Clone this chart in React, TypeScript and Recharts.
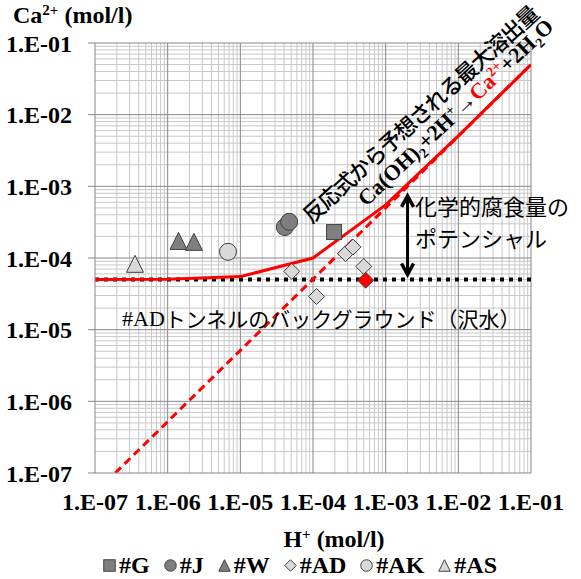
import React from "react";
import {
    ComposedChart,
    Line,
    Scatter,
    XAxis,
    YAxis,
    ReferenceLine,
} from "recharts";

// axis decades (mol/l)
const decadeTicks = [1e-7, 1e-6, 1e-5, 1e-4, 1e-3, 1e-2, 1e-1];
const minorSteps = [2, 3, 4, 5, 6, 7, 8, 9];

// red solid: max dissolution incl. background
const maxDissolution = [
    { x: 1e-7, y: 5.0e-5 },
    { x: 1e-6, y: 5.05e-5 },
    { x: 1e-5, y: 5.5e-5 },
    { x: 1e-4, y: 1.0e-4 },
    { x: 1e-3, y: 5.5e-4 },
    { x: 1e-2, y: 5.05e-3 },
    { x: 1e-1, y: 5.0e-2 },
];
// red dashed: reaction only
const reactionOnly = [
    { x: 1.9e-7, y: 1.0e-7 },
    { x: 1e-3, y: 5.0e-4 },
    { x: 1e-1, y: 5.0e-2 },
];
// black dotted: #AD background (stream water)
const background = [
    { x: 1e-7, y: 5.0e-5 },
    { x: 1e-1, y: 5.0e-5 },
];

const seriesG = [{ x: 1.95e-4, y: 2.3e-4 }];
const seriesJ = [
    { x: 4.1e-5, y: 2.7e-4 },
    { x: 4.7e-5, y: 3.2e-4 },
];
const seriesW = [
    { x: 1.41e-6, y: 1.73e-4 },
    { x: 2.3e-6, y: 1.68e-4 },
];
const seriesAD = [
    { x: 5.1e-5, y: 6.5e-5 },
    { x: 1.12e-4, y: 2.9e-5 },
    { x: 2.8e-4, y: 1.15e-4 },
    { x: 3.55e-4, y: 1.42e-4 },
    { x: 5.0e-4, y: 7.6e-5 },
];
const seriesADHighlight = [{ x: 5.3e-4, y: 4.9e-5 }];
const seriesAK = [{ x: 6.76e-6, y: 1.22e-4 }];
const seriesAS = [{ x: 3.55e-7, y: 8.3e-5 }];

// arrow: chemical corrosion potential
const arrowSegment = [
    { x: 2.0e-3, y: 7.6e-4 },
    { x: 2.0e-3, y: 5.7e-5 },
];

const DARK = "#7f7f7f";
const LIGHT = "#d9d9d9";
const EDGE = "#404040";
const SERIF = "'Liberation Serif', 'Times New Roman', serif";
const JP = "'Noto Sans CJK JP', sans-serif";

const minorValues = decadeTicks
    .slice(0, -1)
    .flatMap((d) => minorSteps.map((k) => k * d));

const fmt = (v: number) => {
    const e = Math.round(Math.log10(v));
    return `1.E${e < 0 ? "-" : "+"}${String(Math.abs(e)).padStart(2, "0")}`;
};

const drawMarker = (kind: string, cx: number, cy: number, fill: string, s: number) => {
    const h = s / 2;
    if (kind === "square")
        return <rect x={cx - h} y={cy - h} width={s} height={s} fill={fill} stroke={EDGE} strokeWidth={1} />;
    if (kind === "circle")
        return <circle cx={cx} cy={cy} r={h} fill={fill} stroke={EDGE} strokeWidth={1} />;
    if (kind === "triangle")
        return (
            <polygon
                points={`${cx},${cy - h} ${cx + h},${cy + h} ${cx - h},${cy + h}`}
                fill={fill}
                stroke={EDGE}
                strokeWidth={1}
            />
        );
    return (
        <polygon
            points={`${cx},${cy - h} ${cx + h},${cy} ${cx},${cy + h} ${cx - h},${cy}`}
            fill={fill}
            stroke={EDGE}
            strokeWidth={1}
        />
    );
};

const shape = (kind: string, fill: string, s: number) => (p: any) =>
    <g>{drawMarker(kind, p.cx, p.cy, fill, s)}</g>;

const DoubleArrow = (p: any) => {
    const { x1, y1, y2 } = p;
    const top = Math.min(y1, y2);
    const bot = Math.max(y1, y2);
    return (
        <g>
            <line x1={x1} y1={top + 2} x2={x1} y2={bot - 2} stroke="#000" strokeWidth={3} />
            <polyline
                points={`${x1 - 6},${top + 12} ${x1},${top + 1} ${x1 + 6},${top + 12}`}
                fill="none"
                stroke="#000"
                strokeWidth={3.5}
            />
            <polyline
                points={`${x1 - 6},${bot - 12} ${x1},${bot - 1} ${x1 + 6},${bot - 12}`}
                fill="none"
                stroke="#000"
                strokeWidth={3.5}
            />
        </g>
    );
};

const legendItems = [
    { name: "#G", kind: "square", fill: DARK },
    { name: "#J", kind: "circle", fill: DARK },
    { name: "#W", kind: "triangle", fill: DARK },
    { name: "#AD", kind: "diamond", fill: LIGHT },
    { name: "#AK", kind: "circle", fill: LIGHT },
    { name: "#AS", kind: "triangle", fill: LIGHT },
];

const App = () => {
    return (
        <div style={{ position: "absolute", left: 0, top: 0, width: 581, height: 579, background: "#fff" }}>
            <ComposedChart
                width={581}
                height={579}
                margin={{ top: 43, right: 50, bottom: 76, left: 0 }}
            >
                <XAxis
                    type="number"
                    dataKey="x"
                    scale="log"
                    domain={[1e-7, 1e-1]}
                    allowDataOverflow
                    ticks={decadeTicks}
                    tickFormatter={fmt}
                    height={30}
                    tickLine={false}
                    tickSize={8}
                    tickMargin={12}
                    axisLine={{ stroke: "#868686" }}
                    tick={{ fontFamily: SERIF, fontWeight: 700, fontSize: 24, fill: "#000" }}
                    interval={0}
                />
                <YAxis
                    type="number"
                    dataKey="y"
                    scale="log"
                    domain={[1e-7, 1e-1]}
                    allowDataOverflow
                    ticks={decadeTicks}
                    tickFormatter={fmt}
                    width={95}
                    tickLine={{ stroke: "#868686" }}
                    tickSize={7}
                    tickMargin={16}
                    axisLine={{ stroke: "#868686" }}
                    tick={{ fontFamily: SERIF, fontWeight: 700, fontSize: 24, fill: "#000" }}
                    interval={0}
                />
                {minorValues.map((v) => (
                    <ReferenceLine key={`mx${v}`} x={v} stroke="#c8c8c8" strokeWidth={1} />
                ))}
                {minorValues.map((v) => (
                    <ReferenceLine key={`my${v}`} y={v} stroke="#c8c8c8" strokeWidth={1} />
                ))}
                {decadeTicks.slice(1).map((v) => (
                    <ReferenceLine key={`Mx${v}`} x={v} stroke="#868686" strokeWidth={1} />
                ))}
                {decadeTicks.slice(1).map((v) => (
                    <ReferenceLine key={`My${v}`} y={v} stroke="#868686" strokeWidth={1} />
                ))}
                <Line
                    data={background}
                    dataKey="y"
                    stroke="#000"
                    strokeWidth={4}
                    strokeDasharray="4 5"
                    dot={false}
                    isAnimationActive={false}
                />
                <Line
                    data={reactionOnly}
                    dataKey="y"
                    stroke="#ff0000"
                    strokeWidth={3}
                    strokeDasharray="8 5"
                    dot={false}
                    isAnimationActive={false}
                />
                <Line
                    data={maxDissolution}
                    dataKey="y"
                    stroke="#ff0000"
                    strokeWidth={3}
                    dot={false}
                    isAnimationActive={false}
                />
                <ReferenceLine
                    segment={arrowSegment}
                    shape={DoubleArrow}
                    ifOverflow="visible"
                />
                <Scatter data={seriesAS} shape={shape("triangle", LIGHT, 17)} isAnimationActive={false} />
                <Scatter data={seriesW} shape={shape("triangle", DARK, 17)} isAnimationActive={false} />
                <Scatter data={seriesAK} shape={shape("circle", LIGHT, 17)} isAnimationActive={false} />
                <Scatter data={seriesJ} shape={shape("circle", DARK, 17)} isAnimationActive={false} />
                <Scatter data={seriesG} shape={shape("square", DARK, 15)} isAnimationActive={false} />
                <Scatter data={seriesAD} shape={shape("diamond", LIGHT, 16)} isAnimationActive={false} />
                <Scatter data={seriesADHighlight} shape={shape("diamond", "#ff0000", 16)} isAnimationActive={false} />
            </ComposedChart>

            <svg
                width={581}
                height={579}
                style={{ position: "absolute", left: 0, top: 0, pointerEvents: "none" }}
            >
                <text x={13} y={23} fontFamily={SERIF} fontWeight={700} fontSize={24} fill="#000">
                    Ca
                    <tspan fontSize={15} dy={-8}>2+</tspan>
                    <tspan dy={8}> (mol/l)</tspan>
                </text>
                <text x={334} y={547} textAnchor="middle" fontFamily={SERIF} fontWeight={700} fontSize={24} fill="#000">
                    H<tspan fontSize={15} dy={-8}>+</tspan>
                    <tspan dy={8}> (mol/l)</tspan>
                </text>
                <g transform="translate(419,113) rotate(-42.3)">
                    <text
                        x={0}
                        y={0}
                        textAnchor="middle"
                        dominantBaseline="central"
                        fontFamily={JP}
                        fontWeight={500}
                        fontSize={22}
                        letterSpacing={-1.4}
                        fill="#000"
                    >
                        反応式から予想される最大溶出量
                    </text>
                </g>
                <g transform="translate(455,112) rotate(-43.5)">
                    <text x={0} y={8} textAnchor="middle" fontFamily={SERIF} fontWeight={700} fontSize={22} fill="#000">
                        Ca(OH)<tspan fontSize={14} dy={5}>2</tspan>
                        <tspan dy={-5}>+2H</tspan>
                        <tspan fontSize={14} dy={-8}>+</tspan>
                        <tspan dy={8} fontWeight={400}>→</tspan>
                        <tspan fill="#ff0000">Ca</tspan>
                        <tspan fill="#ff0000" fontSize={14} dy={-8}>2+</tspan>
                        <tspan dy={8}>+2H</tspan>
                        <tspan fontSize={14} dy={5}>2</tspan>
                        <tspan dy={-5}>O</tspan>
                    </text>
                </g>
                <text x={415} y={205} dominantBaseline="central" fontFamily={JP} fontSize={22} fill="#000">
                    化学的腐食量の
                </text>
                <text x={415} y={237} dominantBaseline="central" fontFamily={JP} fontSize={22} fill="#000">
                    ポテンシャル
                </text>
                <text x={122} y={318} dominantBaseline="central" fontFamily={JP} fontSize={21} fill="#000">
                    <tspan fontFamily={SERIF} fontSize={22}>#AD</tspan>トンネルのバックグラウンド（沢水）
                </text>
            </svg>

            <div
                style={{
                    position: "absolute",
                    left: 103,
                    top: 552,
                    display: "flex",
                    alignItems: "center",
                    fontFamily: SERIF,
                    fontWeight: 700,
                    fontSize: 24,
                    lineHeight: "26px",
                    whiteSpace: "nowrap",
                }}
            >
                {legendItems.map((it) => (
                    <span key={it.name} style={{ display: "flex", alignItems: "center", marginRight: 14 }}>
                        <svg width={13} height={13} style={{ marginRight: 3 }}>
                            {drawMarker(it.kind, 6.5, 6.5, it.fill, 11.5)}
                        </svg>
                        <span>{it.name}</span>
                    </span>
                ))}
            </div>
        </div>
    );
};

export default App;
